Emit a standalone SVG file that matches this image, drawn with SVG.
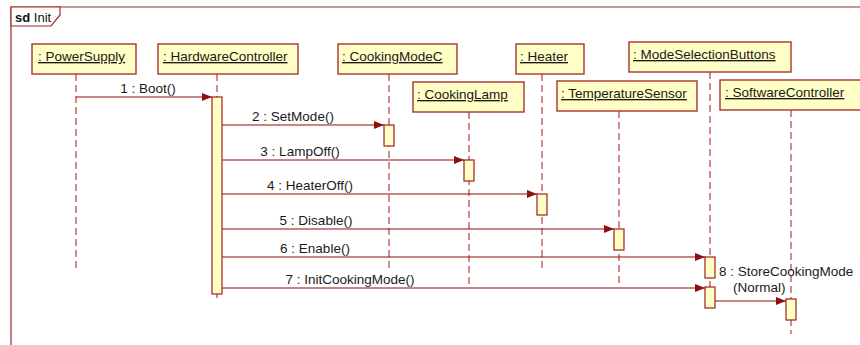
<svg xmlns="http://www.w3.org/2000/svg" width="860" height="345" viewBox="0 0 860 345">
  <style>
    .frame { fill: none; stroke: #9b2a2a; stroke-width: 1.2; }
    .tab { fill: #ffffff; stroke: #9b2a2a; stroke-width: 1.2; }
    .head { fill: #ffffc6; stroke: #a83232; stroke-width: 1.4; }
    .act { fill: #ffffc6; stroke: #a01e1e; stroke-width: 1.2; }
    .life { stroke: #b43c3c; stroke-width: 1.2; stroke-dasharray: 7 4; fill: none; }
    .msg { stroke: #8e0f0f; stroke-width: 1.2; fill: none; marker-end: url(#arrow); }
    .name { font-family: "Liberation Sans", Arial, sans-serif; font-size: 13.5px; fill: #1a1a1a; text-decoration: underline; }
    .lbl { font-family: "Liberation Sans", Arial, sans-serif; font-size: 13.5px; fill: #1a1a1a; }
    .sd { font-family: "Liberation Sans", Arial, sans-serif; font-size: 13px; fill: #111111; }
  </style>
  <defs>
    <marker id="arrow" markerUnits="userSpaceOnUse" markerWidth="11" markerHeight="9" refX="10" refY="4" orient="auto">
      <path d="M0,0 L10,4 L0,8 Z" fill="#8e0f0f"/>
    </marker>
  </defs>

  <rect width="860" height="345" fill="#ffffff"/>

  <!-- interaction frame -->
  <g id="frame">
    <path class="frame" d="M11,346 V7 H861"/>
    <path class="tab" d="M11,7 H60 V15 L51,26 H11 Z"/>
    <text class="sd" x="15" y="22"><tspan font-weight="bold">sd</tspan> Init</text>
  </g>

  <!-- lifelines with their heads -->
  <g id="PowerSupply">
    <line class="life" x1="76" y1="74" x2="76" y2="270"/>
    <rect class="head" x="32" y="44" width="104" height="30"/>
    <text class="name" x="38" y="61">: PowerSupply</text>
  </g>
  <g id="HardwareController">
    <line class="life" x1="217" y1="74" x2="217" y2="298"/>
    <rect class="head" x="158" y="44" width="140" height="30"/>
    <text class="name" x="163" y="61">: HardwareController</text>
    <rect class="act" x="212" y="97" width="10" height="197"/>
  </g>
  <g id="CookingModeC">
    <line class="life" x1="389" y1="74" x2="389" y2="268"/>
    <rect class="head" x="338" y="44" width="119" height="30"/>
    <text class="name" x="342" y="61">: CookingModeC</text>
    <rect class="act" x="384" y="125" width="10" height="21"/>
  </g>
  <g id="CookingLamp">
    <line class="life" x1="469" y1="112" x2="469" y2="284"/>
    <rect class="head" x="413" y="82" width="111" height="30"/>
    <text class="name" x="417" y="99">: CookingLamp</text>
    <rect class="act" x="464" y="160" width="10" height="21"/>
  </g>
  <g id="Heater">
    <line class="life" x1="542" y1="74" x2="542" y2="271"/>
    <rect class="head" x="516" y="44" width="68" height="30"/>
    <text class="name" x="520" y="61">: Heater</text>
    <rect class="act" x="537" y="194" width="10" height="21"/>
  </g>
  <g id="TemperatureSensor">
    <line class="life" x1="619" y1="111" x2="619" y2="283"/>
    <rect class="head" x="557" y="81" width="140" height="30"/>
    <text class="name" x="561" y="98">: TemperatureSensor</text>
    <rect class="act" x="614" y="229" width="10" height="21"/>
  </g>
  <g id="ModeSelectionButtons">
    <line class="life" x1="710" y1="72" x2="710" y2="308"/>
    <rect class="head" x="629" y="42" width="162" height="30"/>
    <text class="name" x="633" y="59">: ModeSelectionButtons</text>
    <rect class="act" x="705" y="257" width="10" height="21"/>
    <rect class="act" x="705" y="287" width="10" height="21"/>
  </g>
  <g id="SoftwareController">
    <line class="life" x1="791" y1="110" x2="791" y2="334"/>
    <rect class="head" x="720" y="80" width="142" height="30"/>
    <text class="name" x="725" y="97">: SoftwareController</text>
    <rect class="act" x="786" y="299" width="10" height="21"/>
  </g>

  <!-- messages -->
  <g id="messages">
    <line class="msg" x1="76" y1="97" x2="212" y2="97"/>
    <text class="lbl" x="148" y="93" text-anchor="middle">1 : Boot()</text>

    <line class="msg" x1="222" y1="125" x2="384" y2="125"/>
    <text class="lbl" x="293" y="121" text-anchor="middle">2 : SetMode()</text>

    <line class="msg" x1="222" y1="160" x2="464" y2="160"/>
    <text class="lbl" x="300" y="156" text-anchor="middle">3 : LampOff()</text>

    <line class="msg" x1="222" y1="194" x2="537" y2="194"/>
    <text class="lbl" x="310" y="190" text-anchor="middle">4 : HeaterOff()</text>

    <line class="msg" x1="222" y1="229" x2="614" y2="229"/>
    <text class="lbl" x="316" y="225" text-anchor="middle">5 : Disable()</text>

    <line class="msg" x1="222" y1="257" x2="705" y2="257"/>
    <text class="lbl" x="315" y="253" text-anchor="middle">6 : Enable()</text>

    <line class="msg" x1="222" y1="288" x2="705" y2="288"/>
    <text class="lbl" x="350" y="284" text-anchor="middle">7 : InitCookingMode()</text>

    <line class="msg" x1="715" y1="301" x2="786" y2="301"/>
    <text class="lbl" x="719" y="276">8 : StoreCookingMode</text>
    <text class="lbl" x="733" y="292">(Normal)</text>
  </g>
</svg>
